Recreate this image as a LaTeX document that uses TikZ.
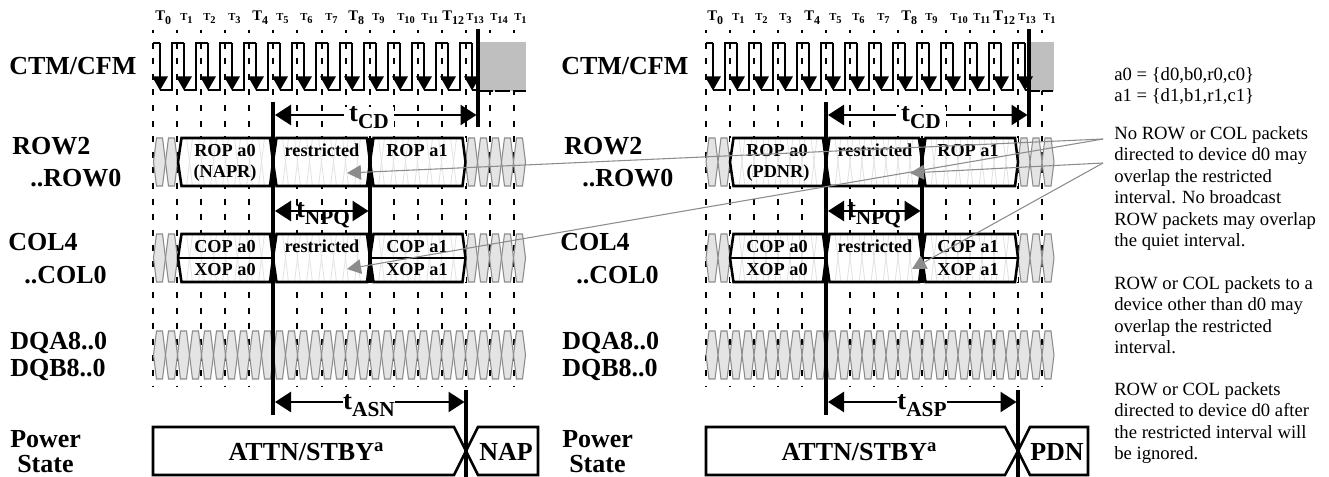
\documentclass[tikz,border=0pt]{standalone}
\usepackage{fontspec}
\setmainfont{Liberation Serif}
\usetikzlibrary{arrows.meta, calc}
\definecolor{pktgris}{HTML}{E4E4E4}
\definecolor{filogris}{HTML}{8C8C8C}
\definecolor{tenue}{HTML}{E2E2E2}
\definecolor{relleno}{HTML}{BFBFBF}
\tikzset{
  senal/.style={font=\fontsize{19.5}{21}\bfseries\selectfont, anchor=base west, inner sep=0pt, align=left},
  caja/.style={font=\fontsize{13.7}{15}\bfseries\selectfont, anchor=base, inner sep=0pt},
  estado/.style={font=\fontsize{19.5}{21}\bfseries\selectfont, anchor=base, inner sep=0pt},
  tgrande/.style={font=\fontsize{11}{12}\bfseries\selectfont, anchor=base west, inner sep=0pt},
  tchico/.style={font=\fontsize{8}{9}\bfseries\selectfont, anchor=base west, inner sep=0pt},
  tiempo/.style={font=\fontsize{20}{22}\bfseries\selectfont, anchor=base, inner ysep=0pt, inner xsep=0pt, fill=white},
  tiempolibre/.style={font=\fontsize{20}{22}\bfseries\selectfont, anchor=base, inner sep=0pt},
  nota/.style={font=\fontsize{14}{16.1}\selectfont, anchor=north west, inner sep=0pt, align=left},
  guia/.style={line width=1.5pt, dash pattern=on 4.5pt off 7.2pt, dash phase=2.25pt},
  reloj/.style={line width=1.5pt, line join=miter},
  flanco/.style={line width=1.5pt, -{Triangle[length=10.5pt,width=11.5pt]}},
  marca/.style={line width=2.3pt},
  cota/.style={line width=1.9pt, {Triangle[length=12pt,width=15pt]}-{Triangle[length=12pt,width=15pt]}},
  pkt/.style={draw=filogris, fill=pktgris, line width=.8pt},
  pkttenue/.style={draw=tenue, line width=.6pt},
  borde/.style={draw=black, line width=1.9pt, line join=miter},
  flecha/.style={draw=filogris, line width=.8pt, -{Triangle[length=10.5pt,width=11pt]}}
}
% one idle packet slot, 12 wide
\newcommand{\hexa}[4]{\draw[#1] (#2+3,#3) -- (#2+9,#3) -- (#2+12,#3/2+#4/2) -- (#2+9,#4) -- (#2+3,#4) -- (#2,#3/2+#4/2) -- cycle;}
% packet box with pointed ends
\newcommand{\caja}[4]{\draw[borde] (#1+3.5,#3) -- (#2-3,#3) -- (#2,#3/2+#4/2) -- (#2-3,#4) -- (#1+3.5,#4) -- (#1,#3/2+#4/2) -- cycle;}
\newcommand{\subg}[1]{\raisebox{-2.4pt}{\fontsize{9}{9}\selectfont #1}}
\newcommand{\subc}[1]{\raisebox{-1.6pt}{\fontsize{7.8}{9}\selectfont #1}}
\newcommand{\tpar}[1]{t\raisebox{-5pt}{\fontsize{16}{16}\selectfont #1}}

\begin{document}
\begin{tikzpicture}[x=0.75pt, y=-0.75pt]
  \useasboundingbox (0,0) rectangle (1329,477);

  % dashed clock guides
  \foreach \i in {0,...,15} \draw[guia] (153.3+24.03*\i,30) -- (153.3+24.03*\i,387);
  \foreach \i in {0,...,14} \draw[guia] (706+24*\i,30) -- (706+24*\i,387);

  % T labels
  \foreach \n/\xa in {0/155,4/252,8/348,12/442} \node (tl\n) [tgrande] at (\xa,21) {T\subg{\n}};
  \foreach \n/\xa in {1/180,2/203,3/228,5/276,6/300,7/325,9/372,10/397,11/421,13/466,14/490} \node (tl\n) [tchico] at (\xa,21) {T\subc{\n}};
  \foreach \n/\xa in {0/707,4/804,8/901,12/993} \node (tr\n) [tgrande] at (\xa,21) {T\subg{\n}};
  \foreach \n/\xa in {1/732,2/755,3/779,5/829,6/852,7/877,9/925,10/950,11/973,13/1018} \node (tr\n) [tchico] at (\xa,21) {T\subc{\n}};
  \begin{scope}
    \clip (500,0) rectangle (526,40);
    \node (tlfin) [tchico] at (514,21) {T\subc{1}};
  \end{scope}
  \begin{scope}
    \clip (1030,0) rectangle (1054,40);
    \node (trfin) [tchico] at (1043,21) {T\subc{1}};
  \end{scope}

  % clocks
  \fill[relleno] (478,42) rectangle (526,91);
  \fill[relleno] (1029,42) rectangle (1054,91);
  \draw[line width=1.5pt, dash pattern=on 11pt off 2pt] (478,91) -- (526,91);
  \draw[line width=1.5pt, dash pattern=on 8pt off 2pt] (1029,91) -- (1054,91);
  \draw[reloj] (153,43) -- (160,43);
  \foreach \i in {0,...,12} \draw[reloj] (160+24*\i,90) -- (172+24*\i,90) -- (172+24*\i,43) -- (184+24*\i,43);
  \draw[reloj] (472,90) -- (478,90);
  \foreach \i in {0,...,13} \draw[flanco] (160+24*\i,43) -- (160+24*\i,90.5);
  \draw[reloj] (706,43) -- (713,43);
  \foreach \i in {0,...,12} \draw[reloj] (713+24*\i,90) -- (725+24*\i,90) -- (725+24*\i,43) -- (737+24*\i,43);
  \draw[reloj] (1025,90) -- (1029,90);
  \foreach \i in {0,...,13} \draw[flanco] (713+24*\i,43) -- (713+24*\i,90.5);

  % idle slots
  \foreach \t/\b in {138/186,234/282} {
    \foreach \k in {0,1,26,27,28,29,30} {\hexa{pkt}{153.5+12*\k}{\t}{\b}}
    \foreach \k in {0,1,26,27,28} {\hexa{pkt}{706+12*\k}{\t}{\b}}
    \fill[white] (178,\t) rectangle (465.5,\b);
    \fill[white] (730,\t) rectangle (1018,\b);
    \foreach \k in {2,...,25} {\hexa{pkttenue}{153.5+12*\k}{\t}{\b}}
    \foreach \k in {2,...,25} {\hexa{pkttenue}{706+12*\k}{\t}{\b}}
  }
  \foreach \k in {0,...,30} {\hexa{pkt}{153.5+12*\k}{331}{379}}
  \foreach \k in {0,...,28} {\hexa{pkt}{706+12*\k}{331}{379}}

  % packet boxes
  \foreach \t/\b in {138/186,234/282} {
    \caja{178}{273}{\t}{\b} \caja{273}{370}{\t}{\b} \caja{370}{465.5}{\t}{\b}
    \caja{730}{826}{\t}{\b} \caja{826}{922}{\t}{\b} \caja{922}{1018}{\t}{\b}
  }
  \draw[borde] (178,258) -- (273,258); \draw[borde] (370,258) -- (465.5,258);
  \draw[borde] (730,258) -- (826,258); \draw[borde] (922,258) -- (1018,258);

  % power state boxes
  \draw[borde] (454,427) -- (466,451) -- (454,475) -- (153,475) -- (153,427) -- cycle;
  \draw[borde] (478,427) -- (466,451) -- (478,475) -- (538,475) -- (538,427) -- cycle;
  \draw[borde] (1005,427) -- (1018,451) -- (1005,475) -- (706,475) -- (706,427) -- cycle;
  \draw[borde] (1030,427) -- (1018,451) -- (1030,475) -- (1088,475) -- (1088,427) -- cycle;

  % timing marks
  \draw[marca] (273,102) -- (273,415); \draw[marca] (370,138) -- (370,283);
  \draw[marca] (478,29) -- (478,127); \draw[marca] (466,390) -- (466,477);
  \draw[marca] (826,102) -- (826,415); \draw[marca] (922,138) -- (922,283);
  \draw[marca] (1029,29) -- (1029,127); \draw[marca] (1018,390) -- (1018,477);

  \coordinate (cdla) at (275,115); \coordinate (cdlb) at (476.5,115);
  \coordinate (cdra) at (828,115); \coordinate (cdrb) at (1027.5,115);
  \coordinate (npla) at (275,211); \coordinate (nplb) at (368.5,211);
  \coordinate (npra) at (828,211); \coordinate (nprb) at (920.5,211);
  \coordinate (asla) at (275,402); \coordinate (aslb) at (464.5,402);
  \coordinate (asra) at (828,402); \coordinate (asrb) at (1016.5,402);
  \draw[cota] (cdla) -- (cdlb); \draw[cota] (cdra) -- (cdrb);
  \draw[cota] (npla) -- (nplb); \draw[cota] (npra) -- (nprb);
  \draw[cota] (asla) -- (aslb); \draw[cota] (asra) -- (asrb);
  \node (tcdl) [tiempo, inner xsep=4pt] at (369,122) {\tpar{CD}};
  \node (tcdr) [tiempo, inner xsep=4pt] at (921,122) {\tpar{CD}};
  \node (tnpl) [tiempolibre] at (323,218) {\tpar{NPQ}};
  \node (tnpr) [tiempolibre] at (874,218) {\tpar{NPQ}};
  \node (tasl) [tiempo] at (369,410) {\tpar{ASN}};
  \node (tasr) [tiempo] at (922,410) {\tpar{ASP}};

  % signal names
  \foreach \xc/\s in {0/l,552/r} {
    \node (ctm\s) [senal] at (9+\xc,75) {CTM/CFM};
    \node (rowa\s) [senal] at (12+\xc,155) {ROW2};
    \node (rowb\s) [senal] at (30+\xc,187) {..ROW0};
    \node (cola\s) [senal] at (8+\xc,251) {COL4};
    \node (colb\s) [senal] at (24+\xc,284) {..COL0};
    \node (dqa\s) [senal] at (10+\xc,350) {DQA8..0};
    \node (dqb\s) [senal] at (10+\xc,377) {DQB8..0};
    \node (pow\s) [senal] at (10+\xc,447) {Power};
    \node (sta\s) [senal] at (17+\xc,472) {State};
  }

  % box texts
  \node (ropal) [caja] at (225,157) {ROP a0};
  \node (napr) [caja] at (225,178) {(NAPR)};
  \node (resal) [caja] at (322,157) {restricted};
  \node (ropbl) [caja] at (417,157) {ROP a1};
  \node (copal) [caja] at (225,253) {COP a0};
  \node (xopal) [caja] at (225,276) {XOP a0};
  \node (resbl) [caja] at (322,253) {restricted};
  \node (copbl) [caja] at (417,253) {COP a1};
  \node (xopbl) [caja] at (417,276) {XOP a1};
  \node (ropar) [caja] at (777,157) {ROP a0};
  \node (pdnr) [caja] at (778,178) {(PDNR)};
  \node (resar) [caja] at (875,157) {restricted};
  \node (ropbr) [caja] at (968,157) {ROP a1};
  \node (copar) [caja] at (777,253) {COP a0};
  \node (xopar) [caja] at (777,276) {XOP a0};
  \node (resbr) [caja] at (875,253) {restricted};
  \node (copbr) [caja] at (968,253) {COP a1};
  \node (xopbr) [caja] at (968,276) {XOP a1};
  \node (attnl) [estado] at (306,460) {ATTN/STBY\raisebox{6.5pt}{\fontsize{14}{14}\selectfont a}};
  \node (nap) [estado] at (506,460) {NAP};
  \node (attnr) [estado] at (859,460) {ATTN/STBY\raisebox{6.5pt}{\fontsize{14}{14}\selectfont a}};
  \node (pdn) [estado] at (1057,460) {PDN};

  % notes
  \node (notadir) [nota] at (1114,67) {a0 = \{d0,b0,r0,c0\}\\a1 = \{d1,b1,r1,c1\}};
  \node (notauno) [nota] at (1114,126) {No ROW or COL packets\\directed to device d0 may\\overlap the restricted\\interval. No broadcast\\ROW packets may overlap\\the quiet interval.};
  \node (notados) [nota] at (1114,276) {ROW or COL packets to a\\device other than d0 may\\overlap the restricted\\interval.};
  \node (notatres) [nota] at (1114,382) {ROW or COL packets\\directed to device d0 after\\the restricted interval will\\be ignored.};

  % leader arrows
  \coordinate (vera) at (1103,139); \coordinate (verb) at (1103,163);
  \coordinate (rlim) at (347,173); \coordinate (clim) at (347,269);
  \coordinate (rrim) at (910,173); \coordinate (crim) at (912,269);
  \draw[flecha] (vera) -- (rlim);
  \draw[flecha] (vera) -- (clim);
  \draw[flecha] (verb) -- (rrim);
  \draw[flecha] (verb) -- (crim);
\end{tikzpicture}
\end{document}
